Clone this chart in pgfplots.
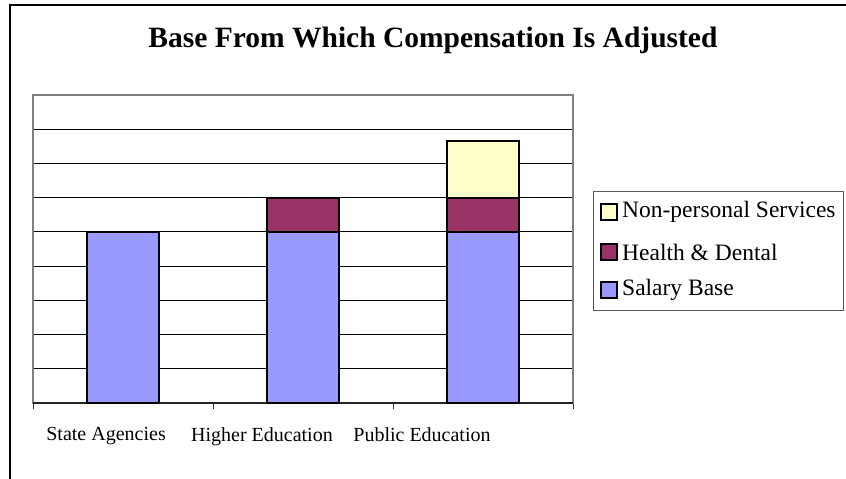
\documentclass[border=0pt]{standalone}
\usepackage{pgfplots}
\pgfplotsset{compat=1.18}
\usepackage{fontspec}
\setmainfont{Liberation Serif}
\definecolor{salary}{RGB}{153,153,255}
\definecolor{health}{RGB}{153,51,102}
\definecolor{nonpers}{RGB}{255,255,204}
\begin{document}
\begin{tikzpicture}[x=1pt,y=1pt]
\path[use as bounding box] (0,0) rectangle (846,479);
\draw[line width=2pt] (10,0) -- (10,474) -- (846,474);
\node[font=\fontsize{29.5}{34}\selectfont\bfseries] at (433,439) {Base From Which Compensation Is Adjusted};
\begin{axis}[
  at={(33pt,76pt)}, anchor=south west,
  width=540pt, height=308pt, scale only axis,
  ybar stacked, bar width=72pt,
  xmin=-0.5, xmax=2.5, ymin=0, ymax=9,
  xtick={-0.5,0.5,1.5,2.5}, xticklabels={},
  extra x ticks={-0.094,0.772,1.661}, extra x tick labels={State Agencies,Higher Education,Public Education},
  extra x tick style={major tick length=0pt, tick label style={font=\fontsize{20}{24}\selectfont, yshift=-21pt}},
  x tick style={black!80, line width=1pt},
  major tick length=6pt,
  xtick pos=bottom, xtick align=outside,
  ytick={0,1,...,9}, yticklabels={}, y tick style={draw=none},
  ymajorgrids, major grid style={black, line width=1pt},
  axis line style={gray, line width=1.5pt},
  clip=false,
]
\addplot[fill=salary, draw=black, line width=2pt] coordinates {(0,5) (1,5) (2,5)};
\addplot[fill=health, draw=black, line width=2pt] coordinates {(0,0) (1,1) (2,1)};
\addplot[fill=nonpers, draw=black, line width=2pt] coordinates {(0,0) (1,0) (2,1.66)};
\draw[black!85, line width=1.5pt] (axis cs:-0.5,0) -- (axis cs:2.5,0);
\end{axis}
\draw[gray!70!black, line width=1pt] (593,168) rectangle (843,287);
\foreach \y/\c/\t in {267/nonpers/Non-personal Services, 227/health/Health \& Dental, 189/salary/Salary Base}{
  \draw[black, line width=1.5pt, fill=\c] (601,\y-8) rectangle (617,\y+8);
  \node[anchor=west, font=\fontsize{23.5}{27}\selectfont, inner sep=0pt] at (622,\y) {\t};
}
\end{tikzpicture}
\end{document}
